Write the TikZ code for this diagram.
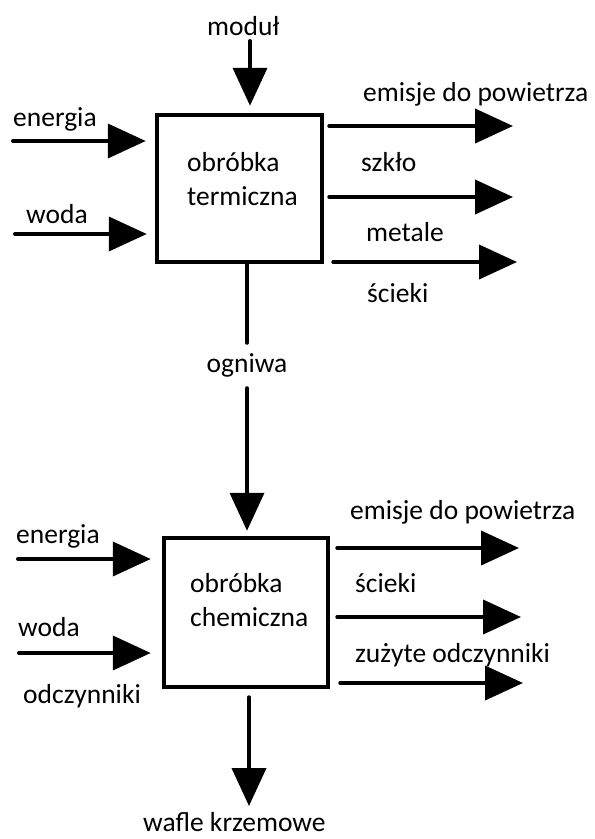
\documentclass[tikz,border=0pt]{standalone}
\usepackage{fontspec}
\setmainfont{Carlito}
\usetikzlibrary{arrows.meta}

\tikzstyle{proc} = [draw, line width=4.5pt, minimum width=165pt, minimum height=147pt, inner sep=0pt]
\tikzstyle{lbl} = [anchor=base west, inner sep=0pt, align=left, font=\fontsize{27.5pt}{34pt}\selectfont]
\tikzstyle{feed} = [line width=4pt, line cap=round]
\tikzstyle{flow} = [feed, -{Triangle[length=38pt,width=34pt]}]

\begin{document}
\begin{tikzpicture}[x=1pt,y=-1pt]
\useasboundingbox (0,0) rectangle (595,839);

\node[proc] (th) at (239.5,188.5) {};
\node[proc, minimum width=164pt, minimum height=149pt] (ch) at (246,612.5) {};

\node[lbl] (tht) at (187,205) {obróbka\\termiczna};
\node[lbl] (cht) at (190,626) {obróbka\\chemiczna};

\node[lbl] (modul) at (207,35) {moduł};
\node[lbl] (en1) at (13,126) {energia};
\node[lbl] (wo1) at (26,223) {woda};
\node[lbl] (em1) at (363,101) {emisje do powietrza};
\node[lbl] (sz) at (361,171) {szkło};
\node[lbl] (me) at (366,241) {metale};
\node[lbl] (sc1) at (367,302) {ścieki};
\node[lbl, anchor=center, minimum height=45pt] (og) at (247,365.5) {ogniwa};

\node[lbl] (en2) at (16,543) {energia};
\node[lbl] (wo2) at (18,636) {woda};
\node[lbl] (od) at (23,703) {odczynniki};
\node[lbl] (em2) at (350,519) {emisje do powietrza};
\node[lbl] (sc2) at (355,592) {ścieki};
\node[lbl] (zo) at (355,662) {zużyte odczynniki};
\node[lbl] (wk) at (143,831) {wafle krzemowe};

\coordinate (m1) at (250,41);
\coordinate (a1) at (13,141);
\coordinate (a2) at (15,234);
\coordinate (b1) at (513,126);
\coordinate (b2) at (513,197);
\coordinate (b3) at (517,262);
\coordinate (c1) at (18,559);
\coordinate (c2) at (19,653);
\coordinate (d1) at (519,548);
\coordinate (d2) at (521,617);
\coordinate (d3) at (523,683);
\coordinate (w1) at (249,806);

\draw[flow, shorten >=7pt] (m1) -- (m1 |- th.north);
\draw[flow, shorten >=9pt] (a1) -- (a1 -| th.west);
\draw[flow, shorten >=8pt] (a2) -- (a2 -| th.west);
\draw[flow, shorten <=5pt] (th.east |- b1) -- (b1);
\draw[flow, shorten <=5pt] (th.east |- b2) -- (b2);
\draw[flow, shorten <=9pt] (th.east |- b3) -- (b3);
\draw[feed] (og.north |- th.south) -- (og.north);
\draw[flow, shorten >=5pt] (og.south) -- (og.south |- ch.north);
\draw[flow, shorten >=11pt] (c1) -- (c1 -| ch.west);
\draw[flow, shorten >=11pt] (c2) -- (c2 -| ch.west);
\draw[flow, shorten <=7pt] (ch.east |- d1) -- (d1);
\draw[flow, shorten <=7pt] (ch.east |- d2) -- (d2);
\draw[flow, shorten <=10pt] (ch.east |- d3) -- (d3);
\draw[flow, shorten <=8pt] (w1 |- ch.south) -- (w1);

\end{tikzpicture}
\end{document}
